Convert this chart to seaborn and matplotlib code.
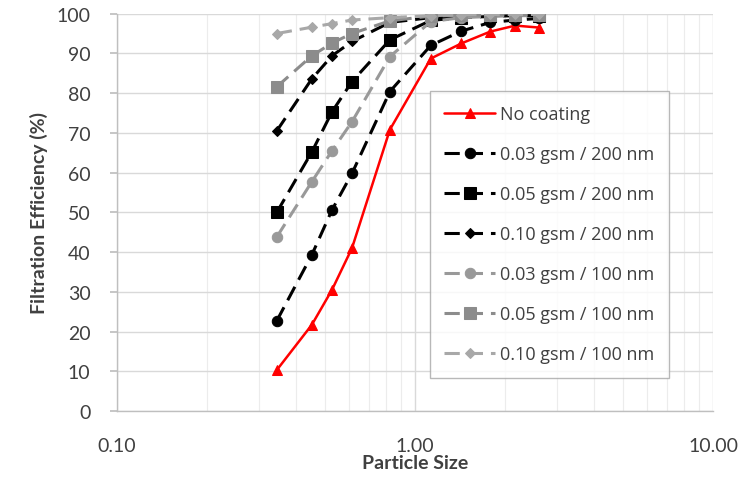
import numpy as np
import pandas as pd
import matplotlib
matplotlib.use("Agg")
import matplotlib.pyplot as plt
from matplotlib.ticker import FixedLocator, FormatStrFormatter, LogLocator, NullFormatter
import seaborn as sns

# Particle sizes (shared by all series)
particle_size = [0.344, 0.451, 0.527, 0.615, 0.824, 1.13, 1.43, 1.79, 2.17, 2.61]

# Filtration efficiency (%) per series
no_coating = [10.3, 21.7, 30.5, 41.0, 70.8, 88.7, 92.5, 95.5, 97.0, 96.5]
gsm003_200 = [22.7, 39.3, 50.6, 59.8, 80.4, 92.0, 95.6, 97.8, 98.4, 98.8]
gsm005_200 = [50.0, 65.2, 75.3, 82.9, 93.4, 98.3, 99.0, 99.3, 99.5, 99.5]
gsm010_200 = [70.5, 83.6, 89.4, 93.0, 97.8, 99.0, 99.3, 99.5, 99.6, 99.6]
gsm003_100 = [43.8, 57.7, 65.5, 72.8, 89.2, 98.0, 99.0, 99.3, 99.5, 99.5]
gsm005_100 = [81.6, 89.4, 92.6, 95.0, 98.2, 99.4, 99.6, 99.7, 99.7, 99.7]
gsm010_100 = [95.0, 96.6, 97.5, 98.4, 99.0, 99.5, 99.7, 99.8, 99.8, 99.8]

series_labels = [
    "No coating",
    "0.03 gsm / 200 nm",
    "0.05 gsm / 200 nm",
    "0.10 gsm / 200 nm",
    "0.03 gsm / 100 nm",
    "0.05 gsm / 100 nm",
    "0.10 gsm / 100 nm",
]
series_values = [no_coating, gsm003_200, gsm005_200, gsm010_200,
                 gsm003_100, gsm005_100, gsm010_100]

# style per series: color, marker, marker size, dashed?
styles = [
    ("#ff0000", "^", 6.5, False),
    ("#000000", "o", 7.5, True),
    ("#000000", "s", 8.0, True),
    ("#000000", "D", 5.0, True),
    ("#999999", "o", 7.5, True),
    ("#8c8c8c", "s", 8.0, True),
    ("#a8a8a8", "D", 5.0, True),
]

sns.set_theme(style="white")
plt.rcParams["font.family"] = ["Lato", "DejaVu Sans"]

fig = plt.figure(figsize=(7.49, 4.81), dpi=100)
ax = fig.add_axes([0.156, 0.1435, 0.796, 0.826])

for label, vals, (color, marker, ms, dashed) in zip(series_labels, series_values, styles):
    df = pd.DataFrame({"size": particle_size, "eff": vals})
    sns.lineplot(data=df, x="size", y="eff", ax=ax, color=color, marker=marker,
                 markersize=ms, markeredgecolor=color, linewidth=2.2,
                 label=label, sort=False)
    line = ax.lines[-1]
    if dashed:
        line.set_dashes((5, 2.6))
    else:
        line.set_linewidth(1.8)

ax.set_xscale("log")
ax.set_xlim(0.1, 10)
ax.set_ylim(0, 100)
ax.xaxis.set_major_locator(FixedLocator([0.1, 1, 10]))
ax.xaxis.set_major_formatter(FormatStrFormatter("%.2f"))
ax.xaxis.set_minor_locator(LogLocator(base=10, subs=np.arange(2, 10)))
ax.xaxis.set_minor_formatter(NullFormatter())
ax.set_yticks(np.arange(0, 101, 10))

ax.grid(True, which="major", color="#d9d9d9", linewidth=1)
ax.grid(True, which="minor", axis="x", color="#ececec", linewidth=0.8)
ax.set_axisbelow(True)

for s in ["top", "right"]:
    ax.spines[s].set_visible(False)
for s in ["left", "bottom"]:
    ax.spines[s].set_color("#bfbfbf")
    ax.spines[s].set_linewidth(1)

ax.tick_params(axis="y", which="major", length=5, color="#bfbfbf", pad=14,
               labelsize=14, labelcolor="#404040", left=True)
ax.tick_params(axis="x", which="major", length=0, pad=19,
               labelsize=14, labelcolor="#404040")
ax.tick_params(axis="x", which="minor", length=0)

ax.set_xlabel("Particle Size", fontsize=14, fontweight="bold", color="#404040", labelpad=0)
ax.set_ylabel("Filtration Efficiency (%)", fontsize=14, fontweight="bold",
              color="#404040", labelpad=6)

leg = ax.legend(loc="upper left", bbox_to_anchor=(0.525, 0.806), frameon=True,
                prop={"family": ["Open Sans", "DejaVu Sans"], "size": 13},
                labelspacing=1.22, handlelength=2.8,
                handletextpad=0.3, borderpad=0.8, borderaxespad=0,
                fancybox=False, edgecolor="#a6a6a6")
leg.get_frame().set_linewidth(1.0)
for t in leg.get_texts():
    t.set_color("#404040")

fig.savefig("out.png", dpi=100)
